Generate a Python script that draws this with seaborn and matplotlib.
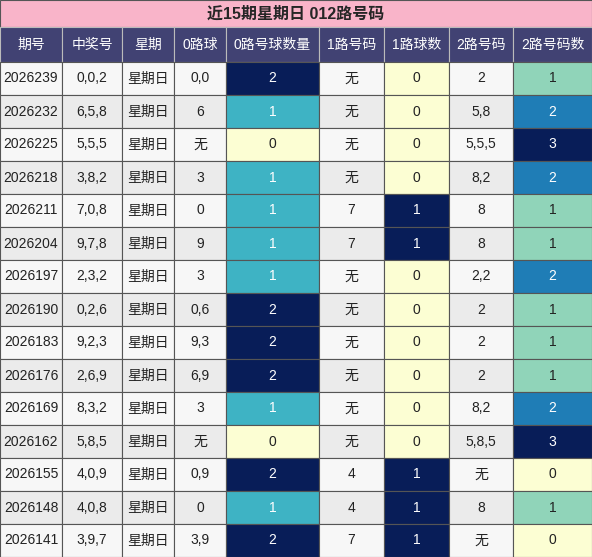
import matplotlib
matplotlib.use("Agg")
import matplotlib.pyplot as plt
from matplotlib.patches import Rectangle
import seaborn as sns

sns.set_style("white")
plt.rcParams['font.family'] = ['Liberation Sans', 'Noto Sans CJK SC', 'DejaVu Sans']

title = "近15期星期日 012路号码"
headers = ["期号", "中奖号", "星期", "0路球", "0路号球数量", "1路号码", "1路球数", "2路号码", "2路号码数"]
issues = ["2026239", "2026232", "2026225", "2026218", "2026211", "2026204", "2026197", "2026190",
          "2026183", "2026176", "2026169", "2026162", "2026155", "2026148", "2026141"]
numbers = ["0,0,2", "6,5,8", "5,5,5", "3,8,2", "7,0,8", "9,7,8", "2,3,2", "0,2,6",
           "9,2,3", "2,6,9", "8,3,2", "5,8,5", "4,0,9", "4,0,8", "3,9,7"]
weekday = ["星期日"] * 15
road0 = ["0,0", "6", "无", "3", "0", "9", "3", "0,6", "9,3", "6,9", "3", "无", "0,9", "0", "3,9"]
road0_cnt = [2, 1, 0, 1, 1, 1, 1, 2, 2, 2, 1, 0, 2, 1, 2]
road1 = ["无", "无", "无", "无", "7", "7", "无", "无", "无", "无", "无", "无", "4", "4", "7"]
road1_cnt = [0, 0, 0, 0, 1, 1, 0, 0, 0, 0, 0, 0, 1, 1, 1]
road2 = ["2", "5,8", "5,5,5", "8,2", "8", "8", "2,2", "2", "2", "2", "8,2", "5,8,5", "无", "8", "无"]
road2_cnt = [1, 2, 3, 2, 1, 1, 2, 1, 1, 1, 2, 3, 0, 1, 0]

col_edges = [0, 62, 122, 174, 226, 319, 384, 449, 513, 592]
title_h, head_h, row_h = 27, 35, 33
cmap = sns.color_palette("YlGnBu", as_cmap=True)

fig = plt.figure(figsize=(5.92, 5.57), dpi=100)
ax = fig.add_axes([0, 0, 1, 1])
ax.set_xlim(0, 592)
ax.set_ylim(557, 0)
ax.axis('off')

# title row
ax.add_patch(Rectangle((0, 0), 592, title_h, facecolor='#f9b4c9', edgecolor='#555555', lw=0.8))
ax.text(296, title_h / 2, title, ha='center', va='center', fontsize=11.5, fontweight='bold')

# header row
for j, h in enumerate(headers):
    x0, x1 = col_edges[j], col_edges[j + 1]
    ax.add_patch(Rectangle((x0, title_h), x1 - x0, head_h, facecolor='#414273', edgecolor='#bbbbbb', lw=0.8))
    ax.text((x0 + x1) / 2, title_h + head_h / 2, h, ha='center', va='center', fontsize=10, color='white')

count_cols = {4: (road0_cnt, 2), 6: (road1_cnt, 1), 8: (road2_cnt, 3)}
for i in range(15):
    y0 = title_h + head_h + i * row_h
    row = [issues[i], numbers[i], weekday[i], road0[i], road0_cnt[i], road1[i], road1_cnt[i], road2[i], road2_cnt[i]]
    base = '#f7f7f7' if i % 2 == 0 else '#ebebeb'
    for j, val in enumerate(row):
        x0, x1 = col_edges[j], col_edges[j + 1]
        fc, tc = base, '#222222'
        if j in count_cols:
            vmax = count_cols[j][1]
            frac = val / vmax
            fc = cmap(0.02 + 0.98 * frac)
            tc = 'white' if frac >= 0.5 else '#222222'
        ax.add_patch(Rectangle((x0, y0), x1 - x0, row_h, facecolor=fc, edgecolor='#555555', lw=0.8))
        ax.text((x0 + x1) / 2, y0 + row_h / 2, str(val), ha='center', va='center', fontsize=10, color=tc)

fig.savefig("out.png", dpi=100)
